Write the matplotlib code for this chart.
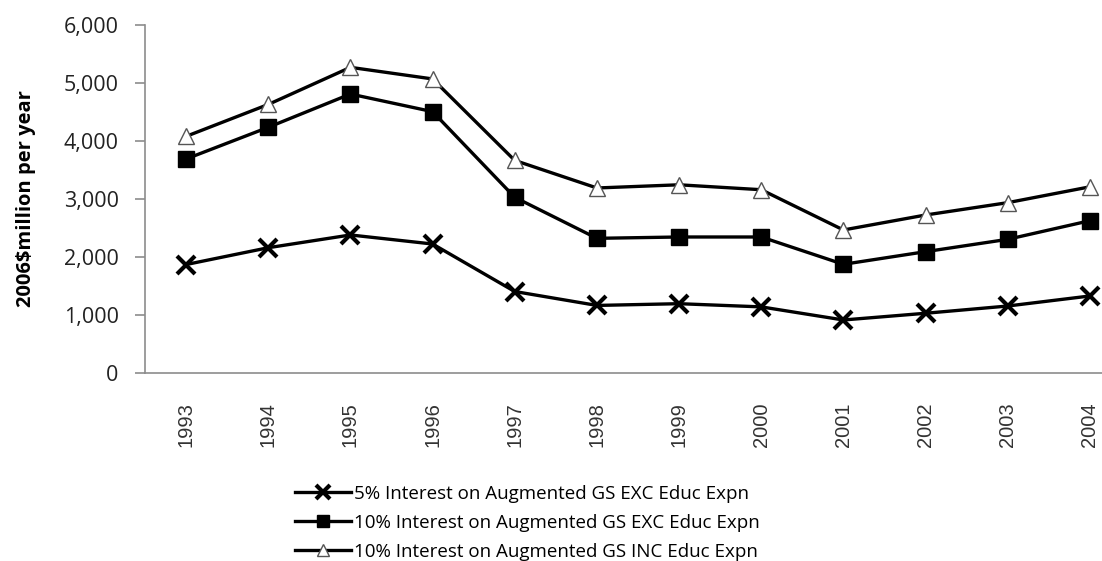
import matplotlib
matplotlib.use("Agg")
import matplotlib.pyplot as plt
from matplotlib.ticker import FuncFormatter

years = ["1993", "1994", "1995", "1996", "1997", "1998",
         "1999", "2000", "2001", "2002", "2003", "2004"]
pct5_exc = [1870, 2160, 2380, 2224, 1405, 1165, 1195, 1140, 914, 1030, 1155, 1328]
pct10_exc = [3690, 4236, 4810, 4506, 3029, 2322, 2345, 2345, 1874, 2092, 2305, 2626]
pct10_inc = [4080, 4630, 5270, 5070, 3665, 3190, 3245, 3160, 2466, 2724, 2937, 3210]
labels = ["5% Interest on Augmented GS EXC Educ Expn",
          "10% Interest on Augmented GS EXC Educ Expn",
          "10% Interest on Augmented GS INC Educ Expn"]

W, H = 1102, 561
fig = plt.figure(figsize=(W / 100, H / 100), dpi=100)
# plot area runs past the right edge of the picture, as in the reference
left, right, top, bottom = 145, 1131, 25, 373
ax = fig.add_axes([left / W, 1 - bottom / H, (right - left) / W, (bottom - top) / H])

x = range(len(years))
ax.plot(x, pct5_exc, color="black", lw=2.4, marker="x", ms=13, mew=3,
        label=labels[0], clip_on=False)
ax.plot(x, pct10_exc, color="black", lw=2.4, marker="s", ms=11,
        mfc="black", mec="black", label=labels[1], clip_on=False)
ax.plot(x, pct10_inc, color="black", lw=2.4, marker="^", ms=12,
        mfc="white", mec="#555555", mew=1.0, label=labels[2], clip_on=False)

ax.set_xlim(-0.5, len(years) - 0.5)
ax.set_ylim(0, 6000)
ax.set_yticks(range(0, 6001, 1000))
ax.yaxis.set_major_formatter(FuncFormatter(lambda v, p: f"{int(v):,}"))
ax.set_xticks(list(x))
ax.set_xticklabels(years, rotation=90, family="Liberation Sans",
                   fontsize=14.5, color="#333333")

for s in ["top", "right"]:
    ax.spines[s].set_visible(False)
for s in ["left", "bottom"]:
    ax.spines[s].set_color("#8c8c8c")
    ax.spines[s].set_linewidth(1.2)
ax.tick_params(axis="y", length=7, width=1.2, color="#8c8c8c", pad=12,
               labelsize=15.5, labelcolor="#222222")
ax.tick_params(axis="x", length=0, pad=21)
for t in ax.get_yticklabels():
    t.set_family("Open Sans")

ax.set_ylabel("2006$million per year", family="Open Sans", fontweight="bold",
              fontsize=14.5, labelpad=12)
ax.yaxis.set_label_coords(-(left - 36) / (right - left), 0.5)

leg = fig.legend(loc="upper left", bbox_to_anchor=(295 / W, 1 - 485 / H),
                 frameon=False, prop={"family": "Open Sans", "size": 13.5},
                 handlelength=3.0, handletextpad=0.15, labelspacing=0.58,
                 borderpad=0, borderaxespad=0, markerscale=0.75)

fig.savefig("out.png", dpi=100)
